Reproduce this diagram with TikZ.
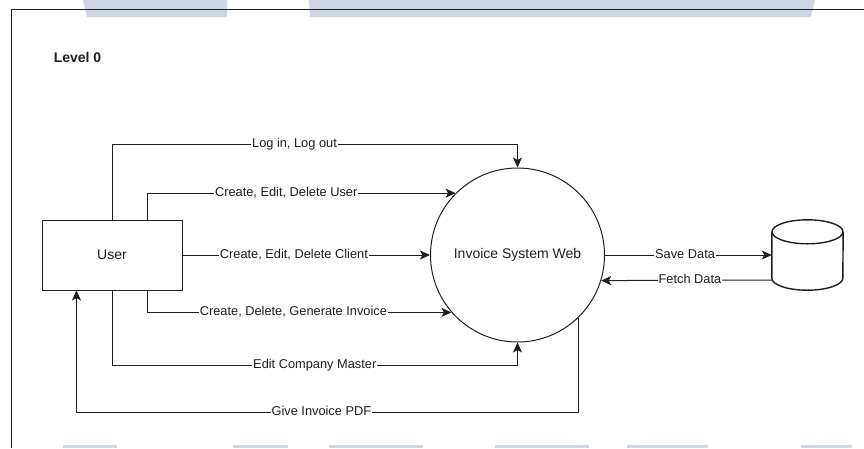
\documentclass[tikz,border=0pt]{standalone}
\usepackage{fontspec}
\setmainfont{Liberation Sans}
\usepackage{tikz}
\usetikzlibrary{arrows.meta}
\definecolor{wmark}{HTML}{CBD8E3}
\definecolor{ink}{HTML}{1E1E1E}

\begin{document}
\begin{tikzpicture}[x=1pt,y=-1pt,
  flow/.style={draw=ink, line width=1pt, -{Stealth[length=10pt,width=9pt,inset=2.5pt]}},
  flowlabel/.style={fill=white, inner xsep=1pt, inner ysep=0.5pt, text height=9pt, text depth=2.5pt,
    text=ink, font=\fontsize{12.8}{14}\selectfont},
  entity/.style={draw=ink, line width=1pt, minimum width=140pt, minimum height=70pt,
    text=ink, font=\fontsize{14}{16}\selectfont},
  process/.style={draw=ink, line width=1pt, circle, minimum size=174pt, inner sep=0pt,
    text=ink, font=\fontsize{14}{16}\selectfont}]
\useasboundingbox (0,0) rectangle (864,448);
% watermark strips
\fill[wmark] (83,0) -- (227,0) -- (227,17) -- (87,17) -- cycle;
\fill[wmark] (309,0) -- (815,0) -- (811,17) -- (310,17) -- cycle;
\foreach \a/\b in {63/117, 233/288, 329/423, 495/589, 627/708, 801/852}
  \fill[wmark] (\a,445) rectangle (\b,448);
% frame
\draw[ink, line width=1pt] (11,448) -- (11,9) -- (864,9);

\node[text=ink, font=\bfseries\fontsize{14}{16}\selectfont] (level) at (77.5,57) {Level 0};
\node[entity] (user) at (112,255) {User};
\node[process] (web) at (517.5,255) {Invoice System Web};
\node[minimum width=71pt, minimum height=70pt, inner sep=0pt] (db) at (807.5,255) {};
% data store
\draw[ink, line width=1.4pt] ([yshift=-12pt]db.north) ellipse [x radius=35.5pt, y radius=12pt];
\draw[ink, line width=1.4pt] ([yshift=-12pt]db.north west) -- ([yshift=12pt]db.south west)
  arc [start angle=180, end angle=360, x radius=35.5pt, y radius=12pt]
  -- ([yshift=-12pt]db.north east);

% flows
\draw[flow] (user.north) -- ++(0,-75) -| node[flowlabel, pos=0.225] {Log in, Log out} (web.north);
\draw[flow] (user.45) |- node[flowlabel, pos=0.725] {Create, Edit, Delete User} (web.135);
\draw[flow] (user.east) -- node[flowlabel, pos=0.45] {Create, Edit, Delete Client} (web.west);
\draw[flow] (user.-45) |- node[flowlabel, pos=0.74] {Create, Delete, Generate Invoice} (web.-139);
\draw[flow] (user.south) -- ++(0,75) -| node[flowlabel, pos=0.25] {Edit Company Master} (web.south);
\draw[flow] (web.-46) -- ++(0,94.5) -| node[flowlabel, pos=0.256] {Give Invoice PDF} (user.-135);
\draw[flow] (web.east) -- node[flowlabel, pos=0.48] {Save Data} (db.west);
\draw[flow] ([yshift=-25pt]db.west) -- node[flowlabel, pos=0.48] {Fetch Data} (web.-17);
\end{tikzpicture}
\end{document}
